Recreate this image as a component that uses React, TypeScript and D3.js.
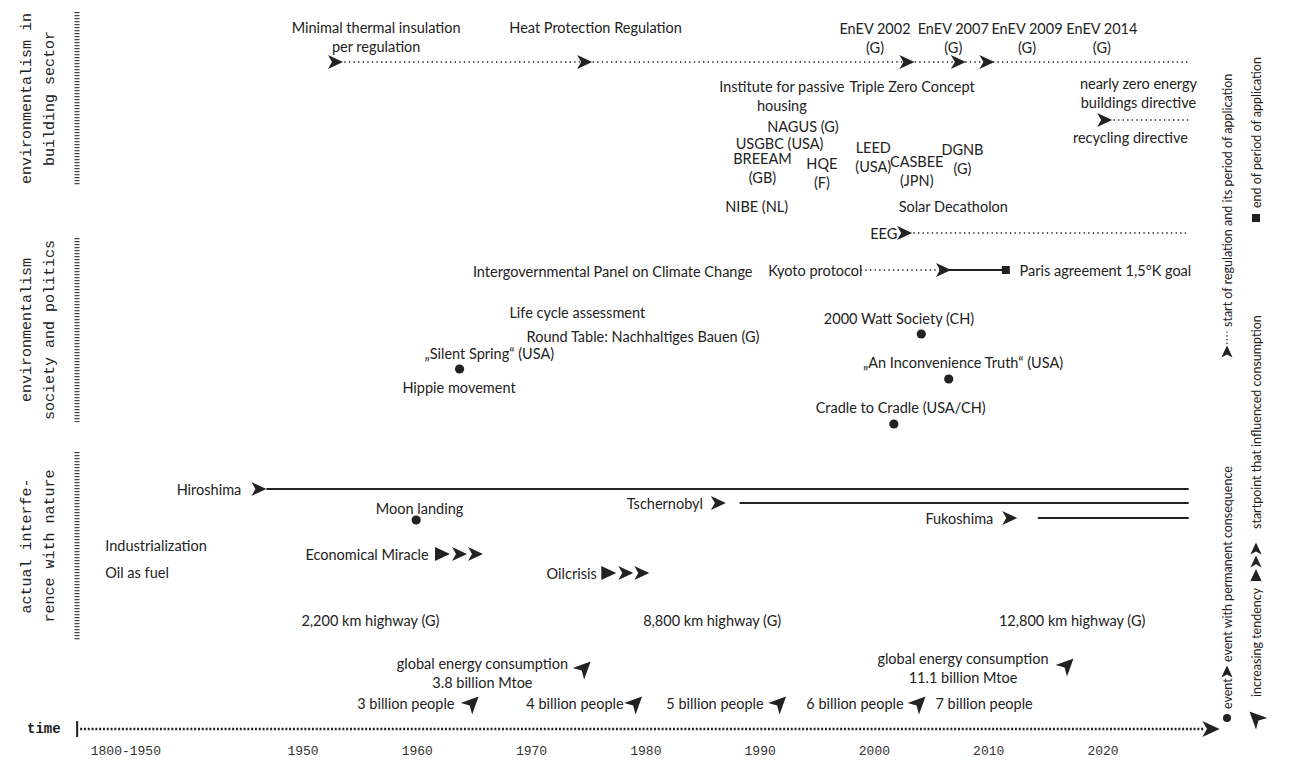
import React from "react";
import * as d3 from "d3";

const W = 1298;
const H = 768;

// ---------- axis ----------
const TICK_YEARS = [1934.5, 1950, 1960, 1970, 1980, 1990, 2000, 2010, 2020];
const TICK_LABELS = ["1800-1950", "1950", "1960", "1970", "1980", "1990", "2000", "2010", "2020"];
const TIME_START = 1930.5;
const TIME_END = 2029.4;
const PERIOD_END = 2027.5;

// ---------- sectors (rotated labels at the left) ----------
const SECTOR_LINES = [
  ["environmentalism in", "building sector"],
  ["environmentalism", "society and politics"],
  ["actual interfe-", "rence with nature"],
];
const SECTOR_FROM = [1.2, 23.8, 45.2];
const SECTOR_TO = [18.5, 42.2, 64.0];

// ---------- text labels: lines, year, lane, anchor ----------
type Lbl = [string[], number, number, string?];
const BUILDING_LABELS: Lbl[] = [
  [["Minimal thermal insulation", "per regulation"], 1956.4, 2.7],
  [["Heat Protection Regulation"], 1975.6, 2.7],
  [["EnEV 2002", "(G)"], 2000.05, 2.8],
  [["EnEV 2007", "(G)"], 2006.9, 2.8],
  [["EnEV 2009", "(G)"], 2013.35, 2.8],
  [["EnEV 2014", "(G)"], 2019.9, 2.8],
  [["Institute for passive", "housing"], 1991.9, 8.6],
  [["Triple Zero Concept"], 2003.3, 8.6],
  [["nearly zero energy", "buildings directive"], 2023.1, 8.3],
  [["recycling directive"], 2022.4, 13.7],
  [["NAGUS (G)"], 1993.75, 12.6],
  [["USGBC (USA)"], 1991.7, 14.3],
  [["BREEAM", "(GB)"], 1990.2, 15.8],
  [["HQE", "(F)"], 1995.4, 16.3],
  [["LEED", "(USA)"], 1999.9, 14.7],
  [["CASBEE", "(JPN)"], 2003.7, 16.1],
  [["DGNB", "(G)"], 2007.7, 14.9],
  [["NIBE (NL)"], 1989.7, 20.6],
  [["Solar Decatholon"], 2006.9, 20.6],
  [["EEG"], 2002.0, 23.3, "end"],
];
const SOCIETY_LABELS: Lbl[] = [
  [["Intergovernmental Panel on Climate Change"], 1977.1, 27.1],
  [["Kyoto protocol"], 1990.7, 27.0, "start"],
  [["Paris agreement 1,5°K goal"], 2012.7, 27.0, "start"],
  [["Life cycle assessment"], 1974.0, 31.2],
  [["Round Table: Nachhaltiges Bauen (G)"], 1979.75, 33.6],
  [["2000 Watt Society (CH)"], 2002.15, 31.8],
  [["\u201ESilent Spring\u201C (USA)"], 1966.3, 35.3],
  [["Hippie movement"], 1963.65, 38.7],
  [["\u201EAn Inconvenience Truth\u201C (USA)"], 2007.75, 36.2],
  [["Cradle to Cradle (USA/CH)"], 2002.3, 40.7],
];
const NATURE_LABELS: Lbl[] = [
  [["Hiroshima"], 1944.6, 48.9, "end"],
  [["Moon landing"], 1960.2, 50.8],
  [["Tschernobyl"], 1985.0, 50.3, "end"],
  [["Fukoshima"], 2010.4, 51.8, "end"],
  [["Industrialization"], 1932.7, 54.5, "start"],
  [["Oil as fuel"], 1932.7, 57.2, "start"],
  [["Economical Miracle"], 1961.0, 55.4, "end"],
  [["Oilcrisis"], 1975.7, 57.3, "end"],
  [["2,200 km highway (G)"], 1955.9, 62.0],
  [["8,800 km highway (G)"], 1985.8, 62.0],
  [["12,800 km highway (G)"], 2017.3, 62.0],
  [["global energy consumption", "3.8 billion Mtoe"], 1965.7, 66.3],
  [["global energy consumption", "11.1 billion Mtoe"], 2007.75, 65.8],
  [["3 billion people"], 1959.0, 70.3],
  [["4 billion people"], 1973.8, 70.3],
  [["5 billion people"], 1986.05, 70.3],
  [["6 billion people"], 1998.3, 70.3],
  [["7 billion people"], 2009.6, 70.3],
];

// ---------- marks ----------
const ARROWS: [number, number][] = [
  [1952.8, 6.2], [1974.6, 6.2], [2002.8, 6.2], [2007.3, 6.2], [2009.8, 6.2],
  [2020.1, 12.0], [2002.6, 23.3], [2006.0, 27.0],
  [1946.1, 48.9], [1986.3, 50.3], [2011.8, 51.8],
];
const DOTTED: [number, number, number][] = [
  [1952.8, PERIOD_END, 6.2],
  [2020.1, PERIOD_END, 12.0],
  [2002.6, PERIOD_END, 23.3],
  [1998.8, 2006.0, 27.0],
];
const SOLID: [number, number, number][] = [
  [2006.0, 2011.5, 27.0],
  [1946.8, PERIOD_END, 48.9],
  [1988.2, PERIOD_END, 50.3],
  [2014.3, PERIOD_END, 51.8],
];
const SQUARES: [number, number][] = [[2011.5, 27.0]];
const DOTS: [number, number][] = [
  [1963.7, 36.9], [2004.1, 33.4], [2006.5, 37.9], [2001.7, 42.4], [1959.9, 52.0],
];
const TRIPLES: [number, number][] = [[1961.55, 55.4], [1976.1, 57.3]];
const TENDENCY: [number, number][] = [
  [1974.6, 66.8], [2016.85, 66.5],
  [1964.8, 70.3], [1979.1, 70.3], [1991.7, 70.3], [2003.9, 70.3],
];

// ---------- legend ----------
const LEGEND_A = ["event", "event with permanent consequence", "start of regulation and its period of application"];
const LEGEND_B = ["increasing tendency", "startpoint that influenced consumption", "end of period of application"];

const xScale = d3.scaleLinear().domain([1950, 2020]).range([303, 1103]);
const yScale = d3.scaleLinear().domain([0, 76.8]).range([0, 768]);

const INK = "#222";
const SANS = "Lato, 'Open Sans', sans-serif";
const MONO = "'Liberation Mono', 'DejaVu Sans Mono', monospace";
const LINE = 19;

const chevron = (cx: number, cy: number, s = 1) =>
  `M${cx - 7 * s},${cy - 7 * s}L${cx + 8 * s},${cy}L${cx - 7 * s},${cy + 7 * s}L${cx - 3 * s},${cy}Z`;
const triangle = (cx: number, cy: number, s = 1) =>
  `M${cx - 7 * s},${cy - 7 * s}L${cx + 8 * s},${cy}L${cx - 7 * s},${cy + 7 * s}Z`;

function Tendency({ x, y }: { x: number; y: number }) {
  return <path d={chevron(0, 0, 1)} transform={`translate(${x},${y}) rotate(-45) scale(1.15)`} fill={INK} />;
}
function Triple({ x, y }: { x: number; y: number }) {
  return (
    <g>
      <path d={triangle(x + 7, y)} fill={INK} />
      <path d={chevron(x + 24, y)} fill={INK} />
      <path d={chevron(x + 40, y)} fill={INK} />
    </g>
  );
}

function Labels({ data }: { data: Lbl[] }) {
  return (
    <g fontFamily={SANS} fontSize={14.5} fill={INK}>
      {data.map(([lines, year, lane, anchor], i) =>
        lines.map((ln, j) => (
          <text key={`${i}-${j}`} x={xScale(year)} y={yScale(lane) + j * LINE}
            textAnchor={anchor || "middle"} dominantBaseline="central">{ln}</text>
        ))
      )}
    </g>
  );
}

export default function App() {
  const axisY = 729;
  return (
    <svg width={W} height={H} style={{ position: "absolute", left: 0, top: 0, background: "#fff" }}>
      <rect width={W} height={H} fill="#fff" />

      {SECTOR_LINES.map((lines, i) => {
        const cy = yScale((SECTOR_FROM[i] + SECTOR_TO[i]) / 2);
        return (
          <g key={i}>
            {lines.map((ln, j) => (
              <text key={j} transform={`translate(${27 + j * 23},${cy}) rotate(-90)`} textAnchor="middle"
                dominantBaseline="central" fontFamily={MONO} fontSize={15} fill={INK}>{ln}</text>
            ))}
            <line x1={77} x2={77} y1={yScale(SECTOR_FROM[i])} y2={yScale(SECTOR_TO[i])}
              stroke="#444" strokeWidth={5} strokeDasharray="1.2,1.8" />
          </g>
        );
      })}

      {DOTTED.map(([a, b, lane], i) => (
        <line key={`d${i}`} x1={xScale(a)} x2={xScale(b)} y1={yScale(lane)} y2={yScale(lane)}
          stroke={INK} strokeWidth={1.6} strokeDasharray="1.4,3.2" />
      ))}
      {SOLID.map(([a, b, lane], i) => (
        <line key={`s${i}`} x1={xScale(a)} x2={xScale(b)} y1={yScale(lane)} y2={yScale(lane)}
          stroke={INK} strokeWidth={1.8} />
      ))}
      {ARROWS.map(([yr, lane], i) => (
        <path key={`a${i}`} d={chevron(xScale(yr), yScale(lane))} fill={INK} />
      ))}
      {SQUARES.map(([yr, lane], i) => (
        <rect key={`q${i}`} x={xScale(yr) - 4} y={yScale(lane) - 4} width={8} height={8} fill={INK} />
      ))}
      {DOTS.map(([yr, lane], i) => (
        <circle key={`o${i}`} cx={xScale(yr)} cy={yScale(lane)} r={4.6} fill={INK} />
      ))}
      {TRIPLES.map(([yr, lane], i) => <Triple key={`t${i}`} x={xScale(yr)} y={yScale(lane)} />)}
      {TENDENCY.map(([yr, lane], i) => <Tendency key={`n${i}`} x={xScale(yr)} y={yScale(lane)} />)}

      <Labels data={BUILDING_LABELS} />
      <Labels data={SOCIETY_LABELS} />
      <Labels data={NATURE_LABELS} />

      <text x={27} y={axisY} dominantBaseline="central" fontFamily={MONO} fontWeight="bold" fontSize={14} fill={INK}>time</text>
      <line x1={xScale(TIME_START) - 3} x2={xScale(TIME_START) - 3} y1={axisY - 8} y2={axisY + 8} stroke={INK} strokeWidth={2} />
      <line x1={xScale(TIME_START)} x2={xScale(TIME_END) - 6} y1={axisY} y2={axisY} stroke={INK} strokeWidth={2.4} strokeDasharray="2,1.8" />
      <path d={chevron(xScale(TIME_END), axisY, 1.15)} fill={INK} />
      {TICK_YEARS.map((yr, i) => (
        <text key={i} x={xScale(yr)} y={751} textAnchor="middle" dominantBaseline="central"
          fontFamily={MONO} fontSize={13} fill="#333">{TICK_LABELS[i]}</text>
      ))}

      <g fontFamily={SANS} fontSize={12.5} fill={INK}>
        <g transform="translate(1227,725) rotate(-90)">
          <circle cx={7} cy={0} r={4} fill={INK} />
          <text x={16} y={0} dominantBaseline="central">{LEGEND_A[0]}</text>
          <path d={chevron(53, 0, 0.8)} fill={INK} />
          <text x={63} y={0} dominantBaseline="central">{LEGEND_A[1]}</text>
          <path d={chevron(373, 0, 0.8)} fill={INK} />
          <line x1={381} x2={395} y1={0} y2={0} stroke={INK} strokeWidth={1.4} strokeDasharray="1.2,2.6" />
          <text x={398} y={0} dominantBaseline="central">{LEGEND_A[2]}</text>
        </g>
        <g transform="translate(1256,725) rotate(-90)">
          <Tendency x={7} y={0} />
          <text x={28} y={0} dominantBaseline="central">{LEGEND_B[0]}</text>
          <g transform="scale(0.8)"><Triple x={180} y={0} /></g>
          <text x={196} y={0} dominantBaseline="central">{LEGEND_B[1]}</text>
          <rect x={503} y={-4} width={8} height={8} fill={INK} />
          <text x={517} y={0} dominantBaseline="central">{LEGEND_B[2]}</text>
        </g>
      </g>
    </svg>
  );
}
